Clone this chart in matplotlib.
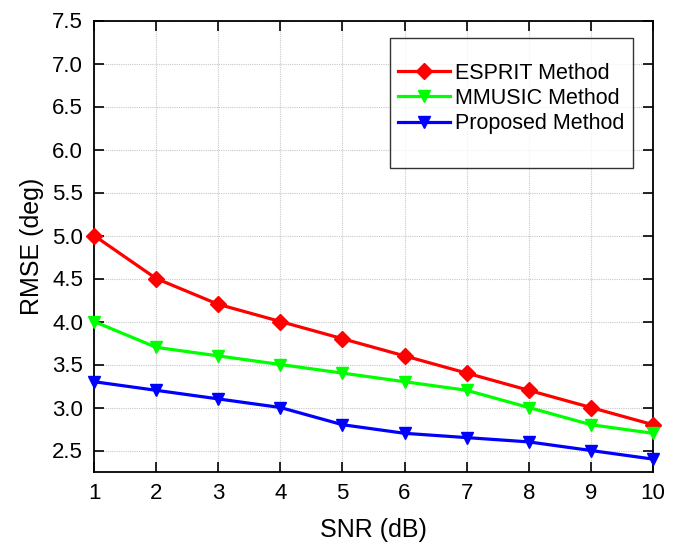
import matplotlib
matplotlib.use("Agg")
from matplotlib import pyplot as plt
from matplotlib.lines import Line2D

plt.rcParams['font.family'] = ['Liberation Sans', 'DejaVu Sans']

# data
snr = [1, 2, 3, 4, 5, 6, 7, 8, 9, 10]
esprit = [5.0, 4.5, 4.2, 4.0, 3.8, 3.6, 3.4, 3.2, 3.0, 2.8]
mmusic = [4.0, 3.7, 3.6, 3.5, 3.4, 3.3, 3.2, 3.0, 2.8, 2.7]
proposed = [3.3, 3.2, 3.1, 3.0, 2.8, 2.7, 2.65, 2.6, 2.5, 2.4]
y_ticks = [2.5, 3.0, 3.5, 4.0, 4.5, 5.0, 5.5, 6.0, 6.5, 7.0, 7.5]

fig = plt.figure(figsize=(6.85, 5.47), dpi=100)
ax = fig.add_axes([94 / 685, 1 - 472 / 547, (653 - 94) / 685, (472 - 20.5) / 547])

ax.plot(snr, esprit, color='#ff0000', lw=2.3, marker='D', ms=8, label='ESPRIT Method', clip_on=False, zorder=3)
ax.plot(snr, mmusic, color='#00ff00', lw=2.3, marker='v', ms=9, label='MMUSIC Method', clip_on=False, zorder=3)
ax.plot(snr, proposed, color='#0000ff', lw=2.3, marker='v', ms=9, label='Proposed Method', clip_on=False, zorder=3)

ax.set_xlim(1, 10)
ax.set_ylim(2.25, 7.5)
ax.set_xticks(snr)
ax.set_yticks(y_ticks)
ax.set_yticklabels(['%.1f' % v for v in y_ticks])
ax.tick_params(direction='in', top=True, right=True, length=7, width=1.2, labelsize=16, pad=8)
for s in ax.spines.values():
    s.set_linewidth(1.3)
ax.grid(True, color='#c8c8c8', ls=(0, (1, 1)), lw=0.8)

ax.set_xlabel('SNR (dB)', fontsize=18, labelpad=10)
ax.set_ylabel('RMSE (deg)', fontsize=18, labelpad=6)

# blank title and blank last row give the legend box its empty space
handles, labels = ax.get_legend_handles_labels()
handles.append(Line2D([], [], color='none'))
labels.append(' ')
leg = ax.legend(handles, labels, loc='upper right', bbox_to_anchor=(0.965, 0.962), fontsize=15.5,
                title=' ', title_fontsize=9,
                frameon=True, fancybox=False, edgecolor='black', handlelength=2.4,
                handletextpad=0.25, labelspacing=0.2, borderpad=0.4, borderaxespad=0)
leg.get_frame().set_linewidth(1.0)

fig.savefig('out.png', dpi=100)
